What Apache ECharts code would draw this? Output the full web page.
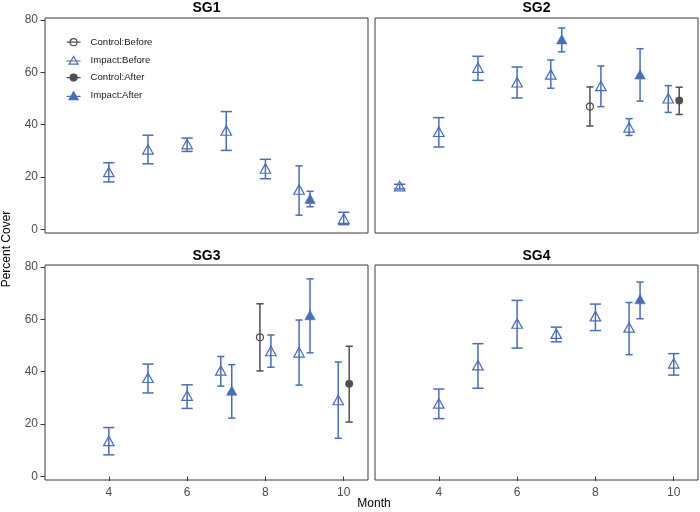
<!DOCTYPE html>
<html>
<head>
<meta charset="utf-8">
<script src="https://cdn.jsdelivr.net/npm/echarts@6/dist/echarts.min.js"></script>
<style>html,body{margin:0;padding:0;background:#fff}#c{width:700px;height:512px}</style>
</head>
<body>
<div id="c"></div>
<script>
// ---- data: rows are [month, mean, lower, upper] ----
const panelNames = ['SG1', 'SG2', 'SG3', 'SG4'];
const groupNames = ['Control:Before', 'Impact:Before', 'Control:After', 'Impact:After'];
const xTickValues = [4, 6, 8, 10];
const yTickValues = [0, 20, 40, 60, 80];

const sg1ControlBefore = [];
const sg1ImpactBefore = [[4, 22.0, 18.2, 25.5], [5, 30.6, 25.1, 36.0], [6, 32.6, 29.8, 34.9], [7, 37.8, 30.2, 45.0], [8, 23.3, 19.4, 26.8], [9, 15.3, 5.5, 24.3], [10, 4.2, 1.9, 6.6]];
const sg1ControlAfter = [];
const sg1ImpactAfter = [[9, 11.8, 8.7, 14.6]];

const sg2ControlBefore = [[8, 46.9, 39.5, 54.4]];
const sg2ImpactBefore = [[3, 16.6, 15.5, 17.3], [4, 37.3, 31.5, 42.7], [5, 61.8, 56.9, 66.1], [6, 56.2, 50.2, 62.0], [7, 59.2, 53.9, 64.7], [8, 54.8, 46.9, 62.4], [9, 39.0, 35.9, 42.3], [10, 50.1, 44.7, 54.9]];
const sg2ControlAfter = [[10, 49.2, 43.9, 54.3]];
const sg2ImpactAfter = [[7, 72.6, 67.8, 76.9], [9, 59.2, 49.0, 69.0]];

const sg3ControlBefore = [[8, 53.1, 40.3, 65.9]];
const sg3ImpactBefore = [[4, 13.6, 8.3, 18.7], [5, 37.7, 31.9, 42.9], [6, 30.9, 26.0, 35.0], [7, 40.5, 34.5, 45.8], [8, 47.9, 41.7, 54.0], [9, 47.4, 34.9, 59.7], [10, 29.2, 14.6, 43.7]];
const sg3ControlAfter = [[10, 35.4, 20.8, 49.7]];
const sg3ImpactAfter = [[7, 32.8, 22.3, 42.7], [9, 61.6, 47.2, 75.4]];

const sg4ControlBefore = [];
const sg4ImpactBefore = [[4, 27.9, 22.1, 33.4], [5, 42.5, 33.7, 50.7], [6, 58.4, 49.0, 67.2], [7, 54.5, 51.4, 57.0], [8, 61.2, 55.7, 65.8], [9, 56.9, 46.5, 66.4], [10, 43.2, 38.7, 46.9]];
const sg4ControlAfter = [];
const sg4ImpactAfter = [[9, 67.7, 60.2, 74.2]];

const panelData = [
  [sg1ControlBefore, sg1ImpactBefore, sg1ControlAfter, sg1ImpactAfter],
  [sg2ControlBefore, sg2ImpactBefore, sg2ControlAfter, sg2ImpactAfter],
  [sg3ControlBefore, sg3ImpactBefore, sg3ControlAfter, sg3ImpactAfter],
  [sg4ControlBefore, sg4ImpactBefore, sg4ControlAfter, sg4ImpactAfter]
];

// ---- styles ----
const BLUE = '#4A6DB5';
const GREY = '#4F4F4F';
const groupColor = [GREY, BLUE, GREY, BLUE];
const groupSymbol = ['circle', 'triangle', 'circle', 'triangle'];
const groupFilled = [false, false, true, true];
const groupSize = [[7, 7], [10.5, 9.5], [7.5, 7.5], [10.5, 9.5]];
const legendIcons = [
  'path://M0,0M14,9M0,4.5L14,4.5M10.5,4.5A3.5,3.5,0,1,1,3.5,4.5A3.5,3.5,0,1,1,10.5,4.5Z',
  'path://M0,0M14,9M0,5.6L14,5.6M7,1L11.5,8.8L2.5,8.8Z',
  'path://M0,0M14,9M0,4.5L14,4.5M10.5,4.5A3.5,3.5,0,1,1,3.5,4.5A3.5,3.5,0,1,1,10.5,4.5Z',
  'path://M0,0M14,9M0,5.6L14,5.6M7,1L11.5,8.8L2.5,8.8Z'
];
const DODGE = 0.28;
const CAP_SINGLE = 5.6, CAP_DODGED = 3.6;
const FONT = '"Liberation Sans", Arial, sans-serif';

const gridRects = [
  {left: 45, top: 18, width: 323, height: 215},
  {left: 375, top: 18, width: 323, height: 215},
  {left: 45, top: 265, width: 323, height: 215},
  {left: 375, top: 265, width: 323, height: 215}
];

const grids = [], xAxes = [], yAxes = [], series = [];

panelData.forEach((groups, p) => {
  grids.push(Object.assign({show: true, borderColor: '#3a3a3a', borderWidth: 1, backgroundColor: '#fff', containLabel: false}, gridRects[p]));
  const bottomRow = p >= 2, leftCol = p % 2 === 0;
  xAxes.push({
    type: 'value', gridIndex: p, min: 2.37, max: 10.62,
    axisLine: {show: false}, splitLine: {show: false},
    axisTick: {show: bottomRow, customValues: xTickValues, length: 4.5, lineStyle: {color: '#3a3a3a'}},
    axisLabel: {show: bottomRow, customValues: xTickValues, margin: 6.5, color: '#4d4d4d', fontSize: 12, fontFamily: FONT}
  });
  yAxes.push({
    type: 'value', gridIndex: p, min: -1.3, max: 80.7,
    axisLine: {show: false}, splitLine: {show: false},
    axisTick: {show: leftCol, customValues: yTickValues, length: 4.5, lineStyle: {color: '#3a3a3a'}},
    axisLabel: {show: leftCol, customValues: yTickValues, margin: 7, color: '#4d4d4d', fontSize: 12, fontFamily: FONT}
  });

  // dodge positions computed from which groups share a month
  const byMonth = {};
  groups.forEach((rows, g) => rows.forEach(r => { (byMonth[r[0]] = byMonth[r[0]] || []).push(g); }));
  const xPos = (month, g) => {
    const list = byMonth[month].slice().sort((a, b) => a - b);
    const k = list.indexOf(g);
    return month + (k - (list.length - 1) / 2) * DODGE;
  };

  groups.forEach((rows, g) => {
    const pts = rows.map(r => [xPos(r[0], g), r[1], r[2], r[3], byMonth[r[0]].length]);
    const col = groupColor[g];
    series.push({
      type: 'custom', name: groupNames[g] + ' bars', xAxisIndex: p, yAxisIndex: p,
      data: pts.map(d => [d[0], d[2], d[3], d[4]]),
      encode: {x: 0, y: [1, 2]},
      silent: true, z: 2,
      renderItem: (params, api) => {
        const x = api.value(0);
        const a = api.coord([x, api.value(1)]);
        const b = api.coord([x, api.value(2)]);
        const hw = api.value(3) > 1 ? CAP_DODGED : CAP_SINGLE;
        const st = {stroke: col, lineWidth: 1.5, fill: null};
        return {type: 'group', children: [
          {type: 'line', shape: {x1: a[0], y1: a[1], x2: b[0], y2: b[1]}, style: st},
          {type: 'line', shape: {x1: a[0] - hw, y1: a[1], x2: a[0] + hw, y2: a[1]}, style: st},
          {type: 'line', shape: {x1: b[0] - hw, y1: b[1], x2: b[0] + hw, y2: b[1]}, style: st}
        ]};
      }
    });
    series.push({
      type: 'scatter', name: groupNames[g], xAxisIndex: p, yAxisIndex: p,
      data: pts.map(d => [d[0], d[1]]),
      symbol: groupSymbol[g], symbolSize: groupSize[g], z: 3,
      itemStyle: {
        color: groupFilled[g] ? col : 'rgba(255,255,255,0)',
        borderColor: col, borderWidth: groupFilled[g] ? 0.5 : 1.2, opacity: 1
      },
      emphasis: {disabled: true}
    });
  });
});

const graphicText = (text, x, y, opts) => Object.assign({
  type: 'text', x: x, y: y, silent: true,
  style: Object.assign({text: text, textAlign: 'center', textVerticalAlign: 'middle', fontFamily: FONT}, opts.style)
}, opts.el || {});

const chart = echarts.init(document.getElementById('c'), null, {renderer: 'canvas'});
chart.setOption({
  backgroundColor: '#fff',
  animation: false,
  grid: grids,
  xAxis: xAxes,
  yAxis: yAxes,
  legend: {
    data: groupNames.map((n, i) => ({name: n, icon: legendIcons[i]})),
    orient: 'vertical', left: 61, top: 31.2,
    itemWidth: 14, itemHeight: 9, itemGap: 5.7,
    itemStyle: {borderWidth: 1.2},
    selectedMode: false,
    textStyle: {fontSize: 9.6, color: '#1a1a1a', fontFamily: FONT, lineHeight: 12, padding: [0, 0, 0, 5]}
  },
  graphic: [
    graphicText(panelNames[0], 206.5, 8, {style: {fontSize: 14, fontWeight: 'bold', fill: '#000'}}),
    graphicText(panelNames[1], 536.5, 8, {style: {fontSize: 14, fontWeight: 'bold', fill: '#000'}}),
    graphicText(panelNames[2], 206.5, 256, {style: {fontSize: 14, fontWeight: 'bold', fill: '#000'}}),
    graphicText(panelNames[3], 536.5, 256, {style: {fontSize: 14, fontWeight: 'bold', fill: '#000'}}),
    graphicText('Percent Cover', 6.5, 249, {style: {fontSize: 12, fill: '#000'}, el: {rotation: Math.PI / 2}}),
    graphicText('Month', 374, 504, {style: {fontSize: 12, fill: '#000'}})
  ],
  series: series
});
</script>
</body>
</html>
